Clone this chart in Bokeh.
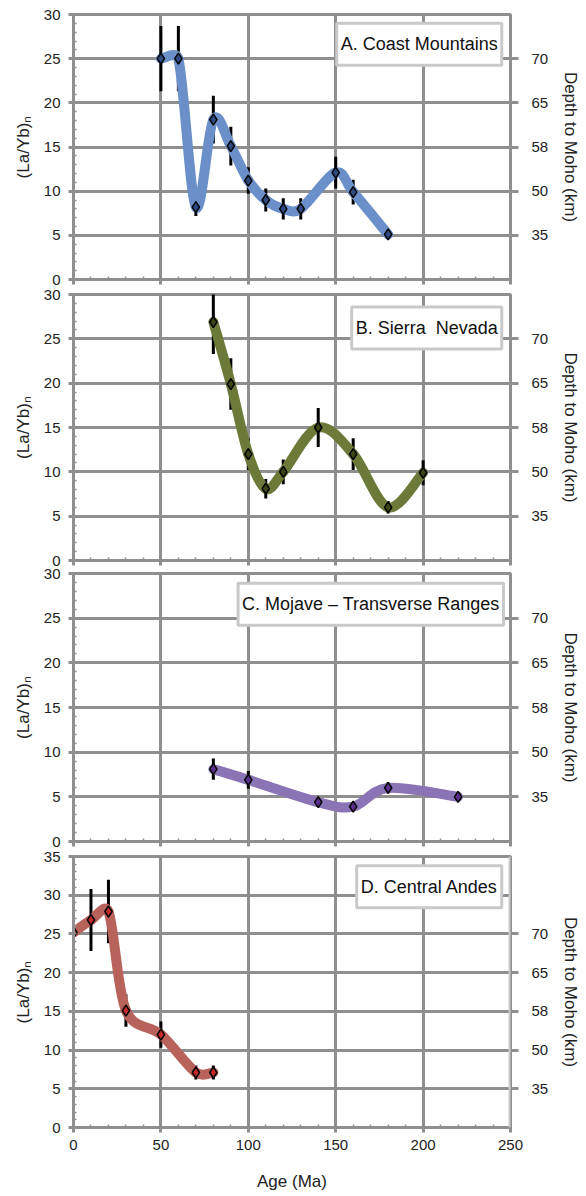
import numpy as np
from bokeh.plotting import figure
from bokeh.models import (LinearAxis, FixedTicker, Label, Range1d, Span,
                          CustomJSTickFormatter)
from bokeh.layouts import column
from bokeh.embed import file_html
from bokeh.resources import INLINE

# ---------------- data ----------------
age_ticks = [0, 50, 100, 150, 200, 250]
age_minor = list(range(0, 251, 10))
moho_ticks = [5, 10, 15, 20, 25]
moho_labels = ["35", "50", "58", "65", "70"]

coast_age = [50, 60, 70, 80, 90, 100, 110, 120, 130, 150, 160, 180]
coast_ratio = [25.0, 25.0, 8.2, 18.1, 15.1, 11.2, 9.0, 8.0, 8.0, 12.1, 9.9, 5.1]
coast_err = [3.7, 3.7, 1.0, 2.7, 2.2, 1.5, 1.3, 1.2, 1.2, 1.8, 1.4, 0.3]

sierra_age = [80, 90, 100, 110, 120, 140, 160, 180, 200]
sierra_ratio = [26.9, 19.9, 12.0, 8.1, 10.0, 15.0, 12.0, 6.0, 9.9]
sierra_err = [3.6, 2.9, 1.8, 1.1, 1.4, 2.2, 1.8, 0.7, 1.4]

mojave_age = [80, 100, 140, 160, 180, 220]
mojave_ratio = [8.1, 6.9, 4.4, 3.9, 6.0, 5.0]
mojave_err = [1.2, 1.0, 0.5, 0.5, 0.6, 0.5]

andes_age = [0, 10, 20, 30, 50, 70, 80]
andes_ratio = [25.2, 26.8, 27.9, 15.1, 12.0, 7.1, 7.1]
andes_err = [3.6, 4.0, 4.1, 2.1, 1.7, 0.9, 0.9]

# ---------------- style ----------------
GRID = "#8f8f8f"
LIGHT = "#c9c9c9"
FONT = "Liberation Sans"
TXT = "#222222"
FRAME_W = 437

hide_fmt = CustomJSTickFormatter(code="return ''")
moho_fmt = CustomJSTickFormatter(
    args=dict(t=moho_ticks, l=moho_labels),
    code="const i = t.indexOf(tick); return i >= 0 ? l[i] : '';")


def bezier_parts(xs, ys, kx, ky):
    """Spreadsheet-style smoothed line as cubic Bezier segments (screen-space tangents)."""
    P = np.column_stack([np.asarray(xs, float) * kx, np.asarray(ys, float) * ky])
    Pp = np.vstack([P[0], P, P[-1]])
    c1s, c2s = [], []
    for i in range(len(P) - 1):
        p0, p1, p2, p3 = Pp[i], Pp[i + 1], Pp[i + 2], Pp[i + 3]
        d12 = np.hypot(*(p2 - p1))
        t1 = p2 - p0
        t2 = p3 - p1
        l1 = np.hypot(*t1)
        l2 = np.hypot(*t2)
        f1 = 1 / 6 if l1 / 6 < d12 / 2 else (d12 / 2) / l1
        f2 = 1 / 6 if l2 / 6 < d12 / 2 else (d12 / 2) / l2
        c1s.append(p1 + t1 * f1)
        c2s.append(p2 - t2 * f2)
    c1s = np.array(c1s)
    c2s = np.array(c2s)
    return dict(
        x0=P[:-1, 0] / kx, y0=P[:-1, 1] / ky, x1=P[1:, 0] / kx, y1=P[1:, 1] / ky,
        cx0=c1s[:, 0] / kx, cy0=c1s[:, 1] / ky, cx1=c2s[:, 0] / kx, cy1=c2s[:, 1] / ky,
    )


def panel(height, top, bottom, ymax, show_x, shift):
    p = figure(width=586, height=height,
               x_range=Range1d(0, 250), y_range=Range1d(0, ymax),
               output_backend="svg", toolbar_location=None,
               min_border_left=73, min_border_right=76,
               min_border_top=top, min_border_bottom=bottom,
               margin=(shift, 0, 0, 0))
    p.background_fill_color = "white"
    p.border_fill_color = None
    p.outline_line_color = GRID
    p.outline_line_width = 3

    xa = p.xaxis[0]
    ya = p.yaxis[0]
    xa.ticker = FixedTicker(ticks=age_ticks, minor_ticks=age_minor)
    yticks = list(range(0, ymax + 1, 5))
    ya.ticker = FixedTicker(ticks=yticks, minor_ticks=list(range(0, ymax + 1)))

    for ax in (xa, ya):
        ax.axis_line_color = GRID
        ax.axis_line_width = 3
        ax.major_tick_line_color = GRID
        ax.major_tick_line_width = 3
        ax.major_tick_out = 5
        ax.major_tick_in = 0
        ax.minor_tick_line_color = GRID
        ax.minor_tick_line_width = 1.5
        ax.minor_tick_in = 3
        ax.minor_tick_out = 0
        ax.major_label_text_font = FONT
        ax.major_label_text_font_size = "15px"
        ax.major_label_text_color = TXT
        ax.axis_label_text_font = FONT
        ax.axis_label_text_font_size = "17px"
        ax.axis_label_text_font_style = "normal"
        ax.axis_label_text_color = TXT

    ya.axis_label = "(La/Yb)\u2099"
    ya.major_label_standoff = 8
    ya.axis_label_standoff = 8

    if show_x:
        xa.axis_label = "Age (Ma)"
        xa.major_label_standoff = 7
        xa.axis_label_standoff = 19
    else:
        xa.formatter = hide_fmt
        xa.major_label_text_font_size = "1px"
        xa.major_label_standoff = 0

    for g in (p.xgrid[0], p.ygrid[0]):
        g.grid_line_color = GRID
        g.grid_line_width = 3

    ra = LinearAxis(ticker=FixedTicker(ticks=moho_ticks, minor_ticks=[]),
                    formatter=moho_fmt, axis_label="Depth to Moho (km)")
    ra.axis_line_color = None
    ra.major_tick_line_color = GRID
    ra.major_tick_line_width = 3
    ra.major_tick_out = 8
    ra.major_tick_in = 0
    ra.minor_tick_line_color = None
    ra.major_label_text_font = FONT
    ra.major_label_text_font_size = "15px"
    ra.major_label_text_color = TXT
    ra.major_label_standoff = 13
    ra.axis_label_text_font = FONT
    ra.axis_label_text_font_size = "17px"
    ra.axis_label_text_font_style = "normal"
    ra.axis_label_text_color = TXT
    ra.axis_label_standoff = 10
    p.add_layout(ra, "right")
    return p


def draw(p, ages, ratios, errs, line_color, marker_color, frame_h, ymax):
    a = np.asarray(ages, float)
    r = np.asarray(ratios, float)
    e = np.asarray(errs, float)
    p.segment(x0=a, y0=r - e, x1=a, y1=r + e, line_color="black", line_width=3)
    p.bezier(line_color=line_color, line_width=10, line_cap="round",
             **bezier_parts(ages, ratios, FRAME_W / 250.0, frame_h / ymax))
    p.scatter(x=a, y=r, marker="diamond", size=11, fill_color=marker_color,
              line_color="black", line_width=1.5)


def tag(p, x, y, text):
    p.add_layout(Label(x=x, y=y, text=text, text_align="right", text_baseline="top",
                       text_font=FONT, text_font_size="18px", text_color="#111111",
                       background_fill_color="white", border_line_color=LIGHT,
                       border_line_width=3,
                       padding=dict(left=4, right=4, top=11, bottom=11)))


pA = panel(291, 14, 12, 30, False, 0)
draw(pA, coast_age, coast_ratio, coast_err, "#6b8fc8", "#2d4b82", 265, 30)
tag(pA, 245, 29.0, "A. Coast Mountains")

pB = panel(290, 12, 12, 30, False, -9)
draw(pB, sierra_age, sierra_ratio, sierra_err, "#6b7a38", "#3a4612", 266, 30)
tag(pB, 245, 28.6, "B. Sierra\u00a0 Nevada")

pC = panel(292, 12, 12, 30, False, -11)
draw(pC, mojave_age, mojave_ratio, mojave_err, "#8a74b6", "#5b2f8e", 268, 30)
tag(pC, 246, 28.9, "C. Mojave \u2013 Transverse Ranges")

pD = panel(352, 12, 69, 35, True, -9)
pD.add_layout(Span(location=250, dimension="height", line_color=LIGHT, line_width=4))
draw(pD, andes_age, andes_ratio, andes_err, "#b8625c", "#c42a2a", 271, 35)
tag(pD, 245, 33.8, "D. Central Andes")

layout = column(pA, pB, pC, pD, spacing=0)
open("out.html", "w").write(file_html(layout, INLINE))
